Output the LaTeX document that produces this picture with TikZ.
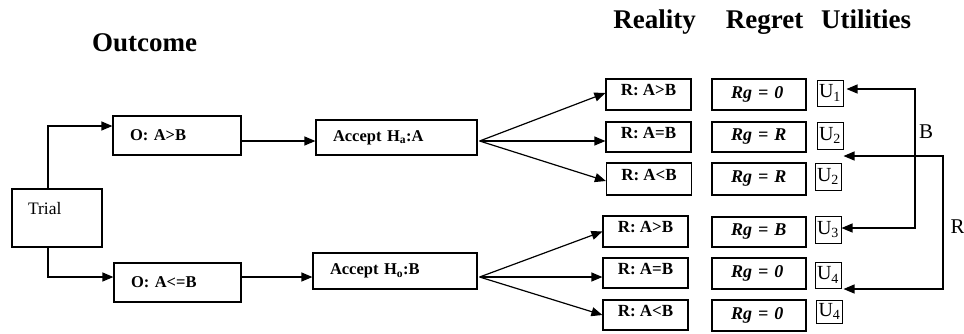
\documentclass[tikz,border=0pt]{standalone}
\usepackage{fontspec}
\setmainfont{Liberation Serif}
\usetikzlibrary{arrows.meta,calc}
\begin{document}
\begin{tikzpicture}[x=1pt,y=-1pt,
  box/.style={draw,line width=1.2pt,inner sep=0pt},
  head/.style={font=\fontsize{27}{30}\selectfont\bfseries,anchor=base,inner sep=0pt},
  trialbox/.style={box,font=\fontsize{17.5}{20}\selectfont,text width=58pt,inner xsep=16pt,align=left,minimum height=58pt,text height=12pt,text depth=18.8pt},
  obox/.style={box,font=\fontsize{16.5}{19}\selectfont\bfseries,text width=#1,inner xsep=17pt,align=left},
  rbox/.style={box,font=\fontsize{17}{19}\selectfont\bfseries,minimum width=85pt,minimum height=31pt,text height=11pt,text depth=8.4pt},
  gbox/.style={box,font=\fontsize{18}{20}\selectfont\bfseries\itshape,text width=56pt,inner xsep=19pt,align=left,minimum height=31pt},
  ubox/.style={draw,line width=1pt,inner sep=0pt,minimum width=26pt,font=\fontsize{20}{22}\selectfont},
  lab/.style={font=\fontsize{21}{23}\selectfont,inner sep=0pt},
  arr/.style={line width=1.2pt,-{Triangle[length=11pt,width=9pt]}},
  darr/.style={line width=1.2pt,{Triangle[length=11pt,width=9pt]}-{Triangle[length=11pt,width=9pt]}}
]
\useasboundingbox (0,0) rectangle (964,333);

% headings
\node[head] (hout) at (144.5,51) {Outcome};
\node[head] (hrea) at (654.5,28) {Reality};
\node[head] (hreg) at (764.5,28) {Regret};
\node[head] (huti) at (866,28) {Utilities};

% left part
\node[trialbox] (trial) at (57,218) {Trial};
\node[obox=94pt,minimum height=39pt] (O1) at (177,135.5) {O: A>B};
\node[obox=93pt,minimum height=39pt] (O2) at (177.5,282.5) {O: A<=B};
\node[obox=127pt,minimum height=35pt] (A1) at (396.5,137.5) {Accept H\textsubscript{a}:A};
\node[obox=130pt,minimum height=36pt] (A2) at (395,271) {Accept H\textsubscript{o}:B};

% reality boxes
\node[rbox] (R1) at (648.5,94.5) {R: A>B};
\node[rbox,minimum height=30pt] (R2) at (648.5,137) {R: A=B};
\node[rbox,minimum height=32pt] (R3) at (649,179) {R: A<B};
\node[rbox] (R4) at (645.5,231.5) {R: A>B};
\node[rbox,minimum height=30pt] (R5) at (645.5,273) {R: A=B};
\node[rbox,minimum height=30pt] (R6) at (645.5,315) {R: A<B};

% regret boxes
\node[gbox] (G1) at (759,94.5) {Rg = 0};
\node[gbox,minimum height=30pt] (G2) at (759,137) {Rg = R};
\node[gbox,minimum height=32pt] (G3) at (759,179) {Rg = R};
\node[gbox,minimum height=30pt] (G4) at (759,232) {Rg = B};
\node[gbox] (G5) at (759,273.5) {Rg = 0};
\node[gbox] (G6) at (759,315.5) {Rg = 0};

% utilities
\node[ubox,minimum height=26pt] (U1) at (830,93) {U\textsubscript{1}};
\node[ubox,minimum height=27pt] (U2) at (830,135.5) {U\textsubscript{2}};
\node[ubox,minimum height=27pt] (U2b) at (828,176.5) {U\textsubscript{2}};
\node[ubox,minimum height=27pt] (U3) at (828,229.5) {U\textsubscript{3}};
\node[ubox,minimum height=26pt] (U4) at (828,275) {U\textsubscript{4}};
\node[ubox,minimum height=23pt] (U4b) at (829.5,311.5) {U\textsubscript{4}};

% trial connectors
\draw[arr] ([xshift=-9pt]trial.north) |- ([yshift=9.5pt]O1.west);
\draw[arr] ([xshift=-9pt]trial.south) |- ([yshift=5.5pt]O2.west);

% outcome -> accept
\coordinate (o1e) at ([yshift=-5.5pt]O1.east);
\coordinate (o2e) at ([yshift=5.5pt]O2.east);
\draw[arr] (o1e) -- (o1e -| A1.west);
\draw[arr] (o2e) -- (o2e -| A2.west);

% fans
\coordinate (f1) at ([xshift=2pt,yshift=-3.5pt]A1.east);
\draw[arr] (f1) -- ([yshift=1.5pt]R1.west);
\draw[arr] (f1) -- (f1 -| R2.west);
\draw[arr] (f1) -- ([yshift=-2pt]R3.west);
\coordinate (f2) at ([xshift=2pt,yshift=-6pt]A2.east);
\draw[arr] (f2) -- (R4.west);
\draw[arr] (f2) -- (f2 -| R5.west);
\draw[arr] (f2) -- (R6.west);

% right connectors
\coordinate (bt) at (915,89);
\coordinate (bb) at (915,228);
\draw[darr,shorten <=3pt] (U1.east |- bt) -- (bt) -- (bb) -- (U3.east |- bb);
\coordinate (rt) at (943,156);
\coordinate (rb) at (943,289);
\draw[darr,shorten >=2pt] (U2.east |- rt) -- (rt) -- (rb) -- (U4.east |- rb);

\node[lab] (lb) at (926,132) {B};
\node[lab] (lr) at (957.5,227) {R};
\end{tikzpicture}
\end{document}
